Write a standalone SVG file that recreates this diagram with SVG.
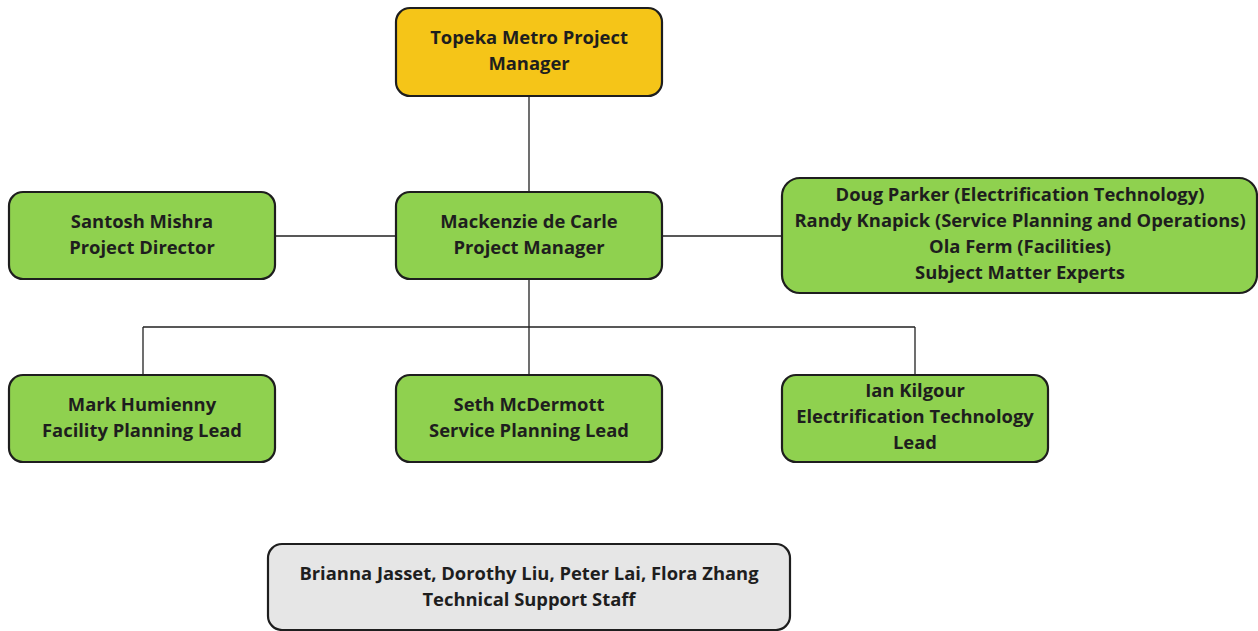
<svg xmlns="http://www.w3.org/2000/svg" width="1258" height="631" viewBox="0 0 1258 631">
<style>
.box{stroke:#1e1e1e;stroke-width:2.2}
.y{fill:#F5C518}
.g{fill:#8FD14F}
.gr{fill:#E6E6E6}
text{font-family:"Open Sans","Noto Sans","Liberation Sans",sans-serif;font-weight:bold;font-size:18.4px;fill:#1e1e1e;text-anchor:middle}
.c{stroke:#222;stroke-width:1.3;fill:none}
</style>
<rect width="1258" height="631" fill="#fff"/>
<g id="connectors">
<path class="c" d="M529 96V192M275 236H396M662 236H782M529 279V375M143 327H915M143 327V375M915 327V375"/>
</g>
<g id="topeka"><rect class="box y" x="396" y="8" width="266" height="88" rx="14"/><text x="529" y="44">Topeka Metro Project</text><text x="529" y="70">Manager</text></g>
<g id="santosh"><rect class="box g" x="9" y="192" width="266" height="87" rx="14"/><text x="142" y="228">Santosh Mishra</text><text x="142" y="254">Project Director</text></g>
<g id="mackenzie"><rect class="box g" x="396" y="192" width="266" height="87" rx="14"/><text x="529" y="228">Mackenzie de Carle</text><text x="529" y="254">Project Manager</text></g>
<g id="sme"><rect class="box g" x="782" y="178" width="475" height="115" rx="18"/><text x="1020" y="201">Doug Parker (Electrification Technology)</text><text x="1020" y="227">Randy Knapick (Service Planning and Operations)</text><text x="1020" y="253">Ola Ferm (Facilities)</text><text x="1020" y="279">Subject Matter Experts</text></g>
<g id="mark"><rect class="box g" x="9" y="375" width="266" height="87" rx="14"/><text x="142" y="411">Mark Humienny</text><text x="142" y="437">Facility Planning Lead</text></g>
<g id="seth"><rect class="box g" x="396" y="375" width="266" height="87" rx="14"/><text x="529" y="411">Seth McDermott</text><text x="529" y="437">Service Planning Lead</text></g>
<g id="ian"><rect class="box g" x="782" y="375" width="266" height="87" rx="14"/><text x="915" y="397">Ian Kilgour</text><text x="915" y="423">Electrification Technology</text><text x="915" y="449">Lead</text></g>
<g id="staff"><rect class="box gr" x="268" y="544" width="522" height="86" rx="14"/><text x="529" y="580">Brianna Jasset, Dorothy Liu, Peter Lai, Flora Zhang</text><text x="529" y="606">Technical Support Staff</text></g>
</svg>
